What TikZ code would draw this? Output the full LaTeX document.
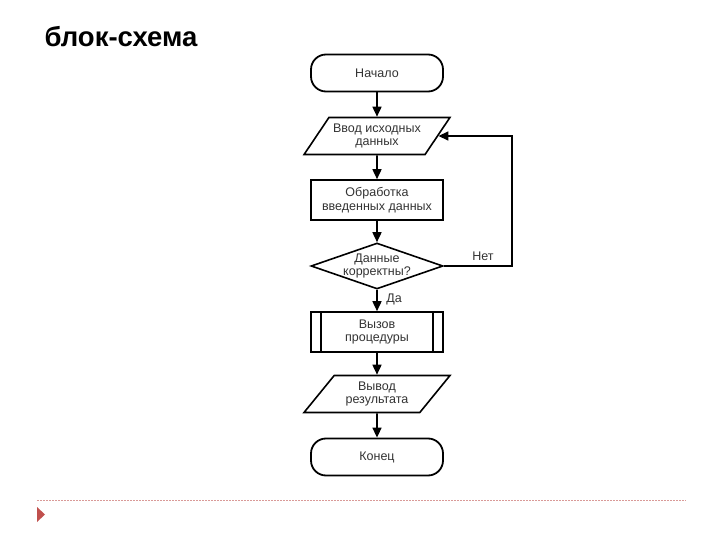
\documentclass[tikz,border=0pt]{standalone}
\usepackage{fontspec}
\setmainfont{Liberation Sans}
\usetikzlibrary{shapes.geometric,arrows.meta}
\definecolor{accent}{HTML}{C0504D}
\definecolor{rulecol}{HTML}{D99A98}
\begin{document}
\begin{tikzpicture}[x=1pt,y=-1pt,
    every node/.style={font=\fontsize{12.5}{13.5}\selectfont,align=center,text=black!80},
    term/.style={draw,line width=1.8pt,rounded corners=15pt,minimum width=132pt,minimum height=37pt},
    io/.style={draw,line width=1.6pt,trapezium,trapezium left angle=52,trapezium right angle=128,
      trapezium stretches=true,minimum width=146pt,minimum height=37pt},
    proc/.style={draw,line width=1.6pt,minimum width=132pt,minimum height=40pt},
    cond/.style={draw,line width=1.6pt,diamond,aspect=2.9,inner sep=0pt,minimum width=132pt,minimum height=46pt},
    flow/.style={line width=1.6pt,-{Triangle[length=10pt,width=9pt]}}]
  \useasboundingbox (0,0) rectangle (720,540);
  \node[font=\bfseries\fontsize{27.5}{32}\selectfont,text=black] (title) at (121,37) {блок-схема};
  \draw
    (377,73) node[term] (start){Начало}
    (377,136) node[io] (input){Ввод исходных\\данных}
    (377,200) node[proc] (work){Обработка\\введенных данных}
    (377,266) node[cond,label=center:{Данные\\корректны?}] (check){}
    (377,332) node[proc] (call){Вызов\\процедуры}
    (377,394) node[io] (output){Вывод\\результата}
    (377,457) node[term] (stop){Конец};
  \draw[line width=1.6pt] ([xshift=11pt]call.north west) -- ([xshift=11pt]call.south west);
  \draw[line width=1.6pt] ([xshift=-11pt]call.north east) -- ([xshift=-11pt]call.south east);
  \coordinate (loopdn) at (512,266);
  \coordinate (loopup) at (512,136);
  \begin{scope}[flow]
    \draw (start) to (input);
    \draw (input) to (work);
    \draw (work) to (check);
    \draw (check) to (call);
    \draw (call) to (output);
    \draw (output) to (stop);
    \draw (check.east) -- (loopdn) -- (loopup) -- (input.east);
  \end{scope}
  \node (no) at (483,256) {Нет};
  \node (yes) at (394,299) {Да};
  % footer line
  \coordinate (rulel) at (37,500);
  \coordinate (ruler) at (686,500);
  \draw[rulecol,line width=0.9pt,dash pattern=on 2pt off 1pt] (rulel) -- (ruler);
  \fill[accent] (37,507) -- (45,514.5) -- (37,522) -- cycle;
\end{tikzpicture}
\end{document}
